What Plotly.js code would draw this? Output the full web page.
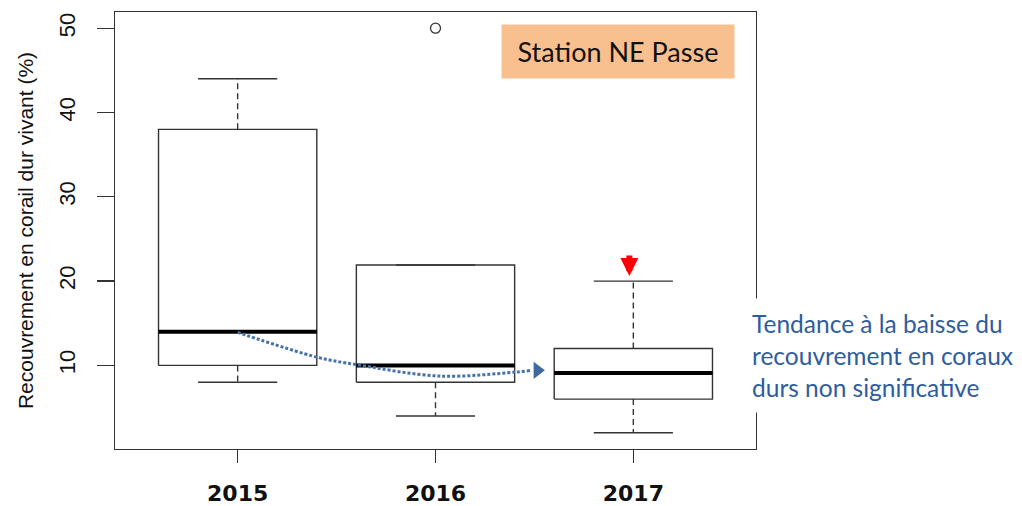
<!DOCTYPE html>
<html>
<head>
<meta charset="utf-8">
<script src="https://cdn.plot.ly/plotly-3.0.1.min.js"></script>
<style>html,body{margin:0;padding:0;background:#fff;}#chart{width:1022px;height:506px;}</style>
</head>
<body>
<div id="chart"></div>
<script>
// ---- data ----
const years = ['2015', '2016', '2017'];
const positions = [1, 2, 3];
const lowerWhisker = [8, 4, 2];
const q1 = [10, 8, 6];
const median = [14, 10, 9.1];
const q3 = [38, 21.9, 12];
const upperWhisker = [44, 21.9, 20];
const outlierX = [2];
const outlierY = [50];
// dotted trend curve (from 2015 median towards 2017)
const trendX = [1.0, 1.405, 1.6, 2.02, 2.4, 2.485];
const trendY = [13.92, 10.95, 10.1, 8.73, 9.2, 9.41];

const ink = '#333333';
const boxHalf = 0.4, capHalf = 0.2;

// build geometry from the arrays
const boxX = [], boxY = [], medX = [], medY = [], whX = [], whY = [], capX = [], capY = [];
positions.forEach((c, i) => {
  boxX.push(c - boxHalf, c + boxHalf, c + boxHalf, c - boxHalf, c - boxHalf, null);
  boxY.push(q1[i], q1[i], q3[i], q3[i], q1[i], null);
  medX.push(c - boxHalf, c + boxHalf, null);
  medY.push(median[i], median[i], null);
  whX.push(c, c, null, c, c, null);
  whY.push(q3[i], upperWhisker[i], null, q1[i], lowerWhisker[i], null);
  capX.push(c - capHalf, c + capHalf, null, c - capHalf, c + capHalf, null);
  capY.push(upperWhisker[i], upperWhisker[i], null, lowerWhisker[i], lowerWhisker[i], null);
});

const traces = [
  {x: whX, y: whY, mode: 'lines', line: {color: ink, width: 1.4, dash: '6px,4px'}, hoverinfo: 'skip'},
  {x: capX, y: capY, mode: 'lines', line: {color: ink, width: 1.4}, hoverinfo: 'skip'},
  {x: boxX, y: boxY, mode: 'lines', line: {color: ink, width: 1.4}, hoverinfo: 'skip'},
  {x: medX, y: medY, mode: 'lines', line: {color: '#000000', width: 4}, hoverinfo: 'skip'},
  {x: outlierX, y: outlierY, mode: 'markers', marker: {symbol: 'circle-open', size: 10, color: ink, line: {width: 1.3, color: ink}}},
  {x: trendX, y: trendY, mode: 'lines', line: {color: '#4673A6', width: 3, dash: '3px,2px', shape: 'spline'}, hoverinfo: 'skip'},
  {x: [trendX[trendX.length - 1] + 0.03], y: [trendY[trendY.length - 1]], mode: 'markers',
   marker: {symbol: 'triangle-right', size: 15, color: '#3F6AA0'}, hoverinfo: 'skip'}
];

const layout = {
  width: 1022, height: 506,
  margin: {l: 115, r: 266, t: 12, b: 57},
  paper_bgcolor: '#ffffff', plot_bgcolor: '#ffffff',
  showlegend: false,
  xaxis: {
    range: [0.38, 3.62], tickvals: positions, ticktext: years,
    ticks: 'outside', ticklen: 13, tickwidth: 1.3, tickcolor: ink,
    ticklabelstandoff: 11,
    showline: true, mirror: true, linecolor: ink, linewidth: 1.3,
    showgrid: false, zeroline: false,
    tickfont: {family: 'DejaVu Sans', size: 22, color: '#111', weight: 'bold'}
  },
  yaxis: {
    range: [0.08, 51.92], tickvals: [10, 20, 30, 40, 50],
    tickangle: -90,
    ticks: 'outside', ticklen: 17, tickwidth: 1.3, tickcolor: ink,
    ticklabelstandoff: 13,
    showline: true, mirror: true, linecolor: ink, linewidth: 1.3,
    showgrid: false, zeroline: false,
    tickfont: {family: 'Liberation Sans, Arial, sans-serif', size: 22, color: '#111'},
    title: {text: 'Recouvrement en corail dur vivant (%)', standoff: 15,
            font: {family: 'Liberation Sans, Arial, sans-serif', size: 21, color: '#111'}}
  },
  annotations: [
    {xref: 'paper', yref: 'paper', x: 0.7842, y: 0.910, xanchor: 'center', yanchor: 'middle',
     text: 'Station NE Passe', showarrow: false, bgcolor: '#F9C08F', width: 232, height: 53, borderpad: 0,
     font: {family: 'Lato, sans-serif', size: 27, color: '#111'}},
    {xref: 'paper', yref: 'paper', x: 0.977, y: 0.213, xanchor: 'left', yanchor: 'middle', align: 'left',
     text: 'Tendance à la baisse du<br>recouvrement en coraux<br>durs non significative',
     showarrow: false, bgcolor: '#ffffff', borderpad: 10,
     font: {family: 'Lato, sans-serif', size: 24.5, color: '#2E5D9F'}},
    {xref: 'x', yref: 'y', x: 2.98, y: 20.6, ax: 0, ay: -22, text: '', showarrow: true,
     arrowhead: 2, arrowsize: 0.6, arrowwidth: 6, arrowcolor: '#FF0000'}
  ]
};

Plotly.newPlot('chart', traces, layout, {displayModeBar: false, staticPlot: true});
</script>
</body>
</html>
